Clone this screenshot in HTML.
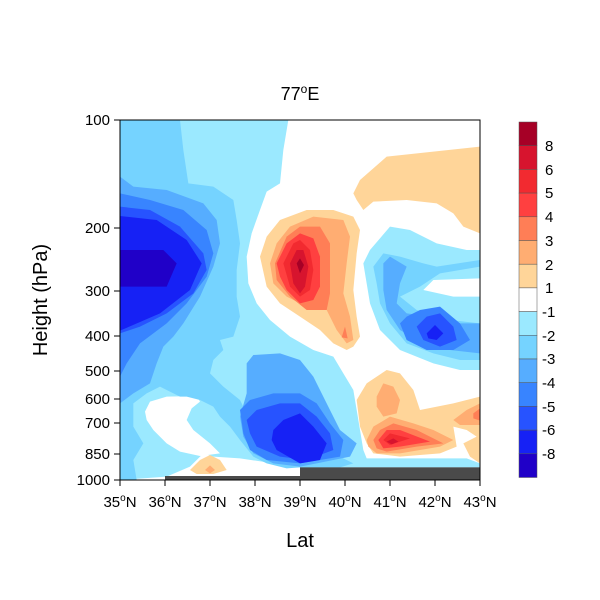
<!DOCTYPE html>
<html><head><style>body{margin:0;background:#fff}svg{display:block}text{font-family:"Liberation Sans",sans-serif;fill:#000}</style></head><body>
<svg width="600" height="600" xmlns="http://www.w3.org/2000/svg">
<defs><clipPath id="c"><rect x="120" y="120" width="360" height="360"/></clipPath></defs>
<g clip-path="url(#c)"><g transform="translate(100,110) scale(0.3333333)">
<rect x="60" y="30" width="1080" height="1080" fill="#fff"/>
<polygon fill="#9BE9FF" points="60,30 565,30 550,120 540,220 500,245 480,300 455,370 440,440 445,520 470,580 510,630 570,680 640,720 700,740 730,790 760,840 770,900 780,960 790,1020 800,1045 1100,1045 1140,1060 1140,1072 600,1072 600,1100 480,1100 430,1080 370,1070 340,1040 310,1030 270,1070 200,1100 60,1110"/>
<polygon fill="#fff" points="135,905 150,875 200,860 290,858 300,875 275,895 260,930 280,960 330,1000 360,1030 300,1038 240,1025 200,1000 160,960 140,930"/>
<polygon fill="#fff" points="340,1040 420,1045 600,1072 600,1100 480,1100 430,1088 380,1078"/>
<polygon fill="#9BE9FF" points="790,460 810,420 870,350 930,360 1010,400 1100,420 1140,420 1140,780 1080,780 1000,760 900,720 840,660 810,580 800,520"/>
<polygon fill="#fff" points="970,540 1000,510 1140,505 1140,560 1060,560"/>
<polygon fill="#75D3FF" points="60,30 240,30 250,120 265,220 340,230 400,270 410,330 420,400 410,480 410,560 420,620 400,680 360,690 370,720 340,750 330,790 370,830 420,870 450,930 500,960 560,980 620,1010 700,1030 760,1060 720,1072 600,1072 560,1075 500,1060 460,1040 420,990 390,950 360,920 340,890 300,870 260,860 240,860 200,840 180,830 140,850 100,880 100,950 130,1000 100,1050 110,1110 60,1110"/>
<polygon fill="#75D3FF" points="820,470 850,430 900,440 970,460 1010,470 1140,450 1140,470 1020,490 960,530 900,560 950,600 1050,630 1140,640 1140,750 1080,750 1000,730 920,700 870,640 840,580 830,520"/>
<polygon fill="#56ADFF" points="60,200 100,230 200,240 310,280 350,330 360,400 340,470 300,560 250,640 220,680 190,710 170,760 150,820 100,850 60,880"/>
<polygon fill="#56ADFF" points="440,760 460,735 540,730 600,750 640,800 680,880 720,960 770,1000 750,1040 650,1060 600,1070 520,1060 460,1030 430,980 420,920 440,850"/>
<polygon fill="#56ADFF" points="850,460 870,440 920,470 900,520 890,580 920,610 1000,620 1080,640 1140,640 1140,730 1050,720 970,700 900,660 860,600 850,540"/>
<polygon fill="#3884FF" points="60,250 150,270 250,300 320,360 340,430 320,500 260,580 200,640 120,700 80,760 60,800"/>
<polygon fill="#3884FF" points="420,900 450,870 520,850 600,850 650,880 690,940 730,990 720,1040 600,1060 500,1050 450,1020 430,970"/>
<polygon fill="#3884FF" points="900,640 920,620 960,600 1020,590 1080,640 1110,690 1060,720 980,720 920,690"/>
<polygon fill="#2753FF" points="60,290 150,300 240,350 310,430 320,480 280,550 200,610 120,650 60,670"/>
<polygon fill="#2753FF" points="440,930 470,900 540,880 600,880 650,920 690,970 700,1020 620,1050 540,1040 470,1010 450,970"/>
<polygon fill="#2753FF" points="950,650 980,620 1020,610 1060,650 1070,690 1020,710 970,690"/>
<polygon fill="#1621F5" points="60,318 170,330 260,390 305,460 270,540 180,610 60,662"/>
<polygon fill="#1621F5" points="520,960 550,930 600,910 640,950 680,1000 660,1050 600,1060 530,1020 515,990"/>
<polygon fill="#1621F5" points="980,670 1005,645 1030,670 1010,690 985,685"/>
<polygon fill="#2000C8" points="60,420 190,420 230,460 200,530 60,530"/>
<polygon fill="#FFD599" points="760,250 780,210 860,140 1140,110 1140,370 1090,350 1060,310 1010,280 920,270 820,275 790,300 770,270"/>
<polygon fill="#FFD599" points="480,440 500,380 540,330 620,300 700,300 760,320 780,360 770,430 760,540 770,620 780,680 760,710 740,720 700,700 660,660 600,620 540,580 500,530"/>
<polygon fill="#FFD599" points="770,870 800,820 860,780 900,790 940,840 960,900 1060,880 1140,860 1140,1060 1110,1040 1090,1000 1130,980 1100,960 1060,950 1070,1010 1020,1030 900,1040 820,1030 800,1000 780,950"/>
<polygon fill="#FFD599" points="270,1080 300,1050 330,1035 360,1050 380,1080 340,1092 290,1092"/>
<polygon fill="#FFAD72" points="510,460 530,400 570,350 640,320 730,330 750,380 740,460 730,550 750,620 760,690 740,700 710,660 680,600 620,590 560,560 520,520"/>
<polygon fill="#FFAD72" points="830,860 850,820 880,830 900,870 890,910 850,920 830,890"/>
<polygon fill="#FFAD72" points="800,990 820,950 870,920 940,940 1000,960 1060,990 1020,1010 900,1030 830,1030 805,1010"/>
<polygon fill="#FFAD72" points="1060,930 1100,900 1140,880 1140,945 1080,945"/>
<polygon fill="#FFAD72" points="315,1080 330,1066 345,1080 330,1090"/>
<polygon fill="#FF7E56" points="525,460 560,380 600,350 660,350 690,400 690,470 690,550 680,600 620,600 570,560 530,510"/>
<polygon fill="#FF7E56" points="820,990 840,960 880,940 950,960 1030,1000 950,1010 860,1025 830,1015"/>
<polygon fill="#FF7E56" points="1120,910 1140,895 1140,932 1120,925"/>
<polygon fill="#FF7E56" points="725,682 735,650 743,685"/>
<polygon fill="#FF4040" points="530,460 560,400 600,370 640,385 660,440 660,530 640,570 600,580 560,540 540,500"/>
<polygon fill="#FF4040" points="835,990 860,960 900,960 990,995 900,1010 850,1015"/>
<polygon fill="#F22A30" points="550,460 580,400 600,390 630,420 640,480 630,540 600,560 570,530"/>
<polygon fill="#F22A30" points="850,990 870,970 930,985 870,1005"/>
<polygon fill="#D7142E" points="570,460 590,420 610,420 625,470 615,530 600,550 580,520"/>
<polygon fill="#D7142E" points="860,995 880,985 895,995 875,1003"/>
<polygon fill="#A60026" points="590,460 600,445 612,465 600,490"/>
<rect x="195" y="1098" width="405" height="15" fill="#4A4A4A"/>
<rect x="600" y="1072" width="540" height="40" fill="#4A4A4A"/>
</g></g>
<rect x="120" y="120" width="360" height="360" fill="none" stroke="#000" stroke-width="1"/>
<g stroke="#000" stroke-width="1">
<line x1="114" y1="120" x2="120" y2="120"/><line x1="114" y1="228" x2="120" y2="228"/><line x1="114" y1="291" x2="120" y2="291"/><line x1="114" y1="336" x2="120" y2="336"/><line x1="114" y1="371" x2="120" y2="371"/><line x1="114" y1="399" x2="120" y2="399"/><line x1="114" y1="423" x2="120" y2="423"/><line x1="114" y1="454" x2="120" y2="454"/><line x1="114" y1="480" x2="120" y2="480"/>
<line x1="120" y1="480" x2="120" y2="486"/><line x1="165" y1="480" x2="165" y2="486"/><line x1="210" y1="480" x2="210" y2="486"/><line x1="255" y1="480" x2="255" y2="486"/><line x1="300" y1="480" x2="300" y2="486"/><line x1="345" y1="480" x2="345" y2="486"/><line x1="390" y1="480" x2="390" y2="486"/><line x1="435" y1="480" x2="435" y2="486"/><line x1="480" y1="480" x2="480" y2="486"/>
</g>
<g font-size="15" text-anchor="end">
<text x="110" y="125">100</text><text x="110" y="233">200</text><text x="110" y="296">300</text><text x="110" y="341">400</text><text x="110" y="376">500</text><text x="110" y="404">600</text><text x="110" y="428">700</text><text x="110" y="459">850</text><text x="110" y="485">1000</text>
</g>
<g font-size="15" text-anchor="middle">
<text x="120" y="507">35<tspan font-size="10" dy="-6">o</tspan><tspan dy="6">N</tspan></text>
<text x="165" y="507">36<tspan font-size="10" dy="-6">o</tspan><tspan dy="6">N</tspan></text>
<text x="210" y="507">37<tspan font-size="10" dy="-6">o</tspan><tspan dy="6">N</tspan></text>
<text x="255" y="507">38<tspan font-size="10" dy="-6">o</tspan><tspan dy="6">N</tspan></text>
<text x="300" y="507">39<tspan font-size="10" dy="-6">o</tspan><tspan dy="6">N</tspan></text>
<text x="345" y="507">40<tspan font-size="10" dy="-6">o</tspan><tspan dy="6">N</tspan></text>
<text x="390" y="507">41<tspan font-size="10" dy="-6">o</tspan><tspan dy="6">N</tspan></text>
<text x="435" y="507">42<tspan font-size="10" dy="-6">o</tspan><tspan dy="6">N</tspan></text>
<text x="480" y="507">43<tspan font-size="10" dy="-6">o</tspan><tspan dy="6">N</tspan></text>
<text x="300" y="547" font-size="20">Lat</text>
<text x="300" y="100" font-size="18">77<tspan font-size="12" dy="-7">o</tspan><tspan dy="7">E</tspan></text>
<text transform="translate(47,300) rotate(-90)" font-size="20">Height (hPa)</text>
</g>
<g stroke="#555" stroke-width="0.5">
<rect x="519" y="122.0" width="18" height="23.7" fill="#A60026"/>
<rect x="519" y="145.7" width="18" height="23.7" fill="#D7142E"/>
<rect x="519" y="169.4" width="18" height="23.7" fill="#F22A30"/>
<rect x="519" y="193.1" width="18" height="23.7" fill="#FF4040"/>
<rect x="519" y="216.8" width="18" height="23.7" fill="#FF7E56"/>
<rect x="519" y="240.5" width="18" height="23.7" fill="#FFAD72"/>
<rect x="519" y="264.2" width="18" height="23.7" fill="#FFD599"/>
<rect x="519" y="287.9" width="18" height="23.7" fill="#FFFFFF"/>
<rect x="519" y="311.6" width="18" height="23.7" fill="#9BE9FF"/>
<rect x="519" y="335.3" width="18" height="23.7" fill="#75D3FF"/>
<rect x="519" y="359.0" width="18" height="23.7" fill="#56ADFF"/>
<rect x="519" y="382.7" width="18" height="23.7" fill="#3884FF"/>
<rect x="519" y="406.4" width="18" height="23.7" fill="#2753FF"/>
<rect x="519" y="430.1" width="18" height="23.7" fill="#1621F5"/>
<rect x="519" y="453.8" width="18" height="23.7" fill="#2000C8"/>
</g>
<g font-size="15">
<text x="545" y="151">8</text><text x="545" y="175">6</text><text x="545" y="198">5</text><text x="545" y="222">4</text><text x="545" y="246">3</text><text x="545" y="270">2</text><text x="545" y="293">1</text>
<text x="542" y="317">-1</text><text x="542" y="341">-2</text><text x="542" y="364">-3</text><text x="542" y="388">-4</text><text x="542" y="412">-5</text><text x="542" y="435">-6</text><text x="542" y="459">-8</text>
</g>
</svg>
</body></html>
